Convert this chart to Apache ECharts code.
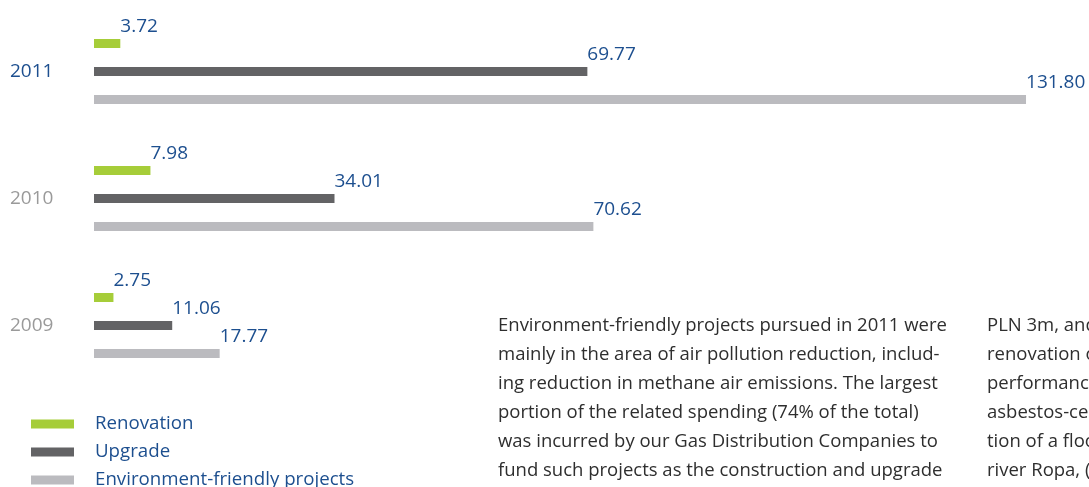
<!DOCTYPE html>
<html>
<head>
<meta charset="utf-8">
<script src="https://cdn.jsdelivr.net/npm/echarts@6/dist/echarts.min.js"></script>
<style>
  html, body { margin: 0; padding: 0; background: #fff; }
  #chart { width: 1089px; height: 487px; }
</style>
</head>
<body>
<div id="chart"></div>
<script>
// dane wykresu
var years = ['2011', '2010', '2009'];
var seriesNames = ['Renovation', 'Upgrade', 'Environment-friendly projects'];
var renovation = [3.72, 7.98, 2.75];
var upgrade = [69.77, 34.01, 11.06];
var ecoProjects = [131.80, 70.62, 17.77];
var yearColors = ['#1d4f8f', '#9a9a9a', '#9a9a9a'];

var leftText = [
  'Environment-friendly projects pursued in 2011 were',
  'mainly in the area of air pollution reduction, includ-',
  'ing reduction in methane air emissions. The largest',
  'portion of the related spending (74% of the total)',
  'was incurred by our Gas Distribution Companies to',
  'fund such projects as the construction and upgrade'
];
var rightText = [
  'PLN 3m, and',
  'renovation of',
  'performance',
  'asbestos-cement',
  'tion of a flood',
  'river Ropa, ('
];

var blue = '#1d4f8f';
var colors = ['#a6cd39', '#636365', '#bbbbbf'];
var font = '"Open Sans", sans-serif';

var chart = echarts.init(document.getElementById('chart'));

var label = {
  show: true,
  position: ['100%', 0],
  align: 'left',
  verticalAlign: 'bottom',
  offset: [0, -3],
  color: blue,
  fontSize: 19,
  fontFamily: font,
  formatter: function (p) { return p.value.toFixed(2); }
};

function makeSeries(name, data, i) {
  return {
    name: name,
    type: 'bar',
    data: data,
    barWidth: 9,
    barGap: '211%',
    itemStyle: { color: colors[i] },
    label: label,
    animation: false
  };
}

var option = {
  animation: false,
  grid: { left: 94, top: 8, width: 990, height: 381, containLabel: false },
  xAxis: {
    type: 'value',
    min: 0,
    max: 140,
    show: false
  },
  yAxis: {
    type: 'category',
    data: years,
    inverse: true,
    axisLine: { show: false },
    axisTick: { show: false },
    axisLabel: {
      align: 'left',
      margin: 84,
      fontSize: 19,
      fontFamily: font,
      color: function (v, idx) { return yearColors[idx]; }
    }
  },
  legend: {
    orient: 'vertical',
    left: 26,
    top: 409,
    height: 120,
    itemWidth: 43,
    itemHeight: 9,
    itemGap: 8,
    icon: 'rect',
    data: seriesNames,
    textStyle: {
      color: blue,
      fontSize: 18.7,
      lineHeight: 20,
      fontFamily: font,
      padding: [0, 0, 0, 16]
    }
  },
  graphic: [
    {
      type: 'text',
      left: 498,
      top: 311,
      style: {
        text: leftText.join('\n'),
        font: '18.5px "Open Sans", sans-serif',
        lineHeight: 29,
        fill: '#2e2e2e'
      }
    },
    {
      type: 'text',
      left: 987,
      top: 311,
      style: {
        text: rightText.join('\n'),
        font: '18.5px "Open Sans", sans-serif',
        lineHeight: 29,
        fill: '#2e2e2e'
      }
    }
  ],
  series: [
    makeSeries(seriesNames[0], renovation, 0),
    makeSeries(seriesNames[1], upgrade, 1),
    makeSeries(seriesNames[2], ecoProjects, 2)
  ]
};

chart.setOption(option);
</script>
</body>
</html>
